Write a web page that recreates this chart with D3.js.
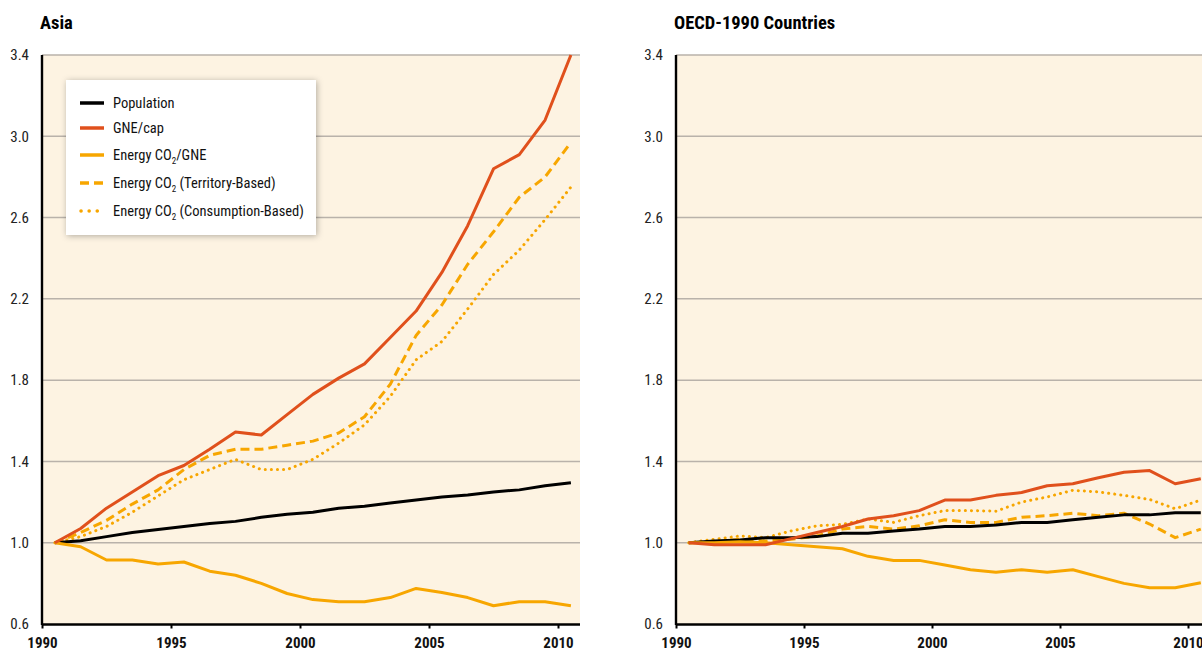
<!DOCTYPE html>
<html><head><meta charset="utf-8">
<script src="https://cdn.jsdelivr.net/npm/d3@7"></script>
<style>
html,body{margin:0;padding:0;background:#fff;}
svg{display:block;}
text{font-family:"Liberation Sans Narrow","Roboto Condensed","Open Sans",sans-serif;}
</style></head>
<body>
<svg id="chart" width="1202" height="652"></svg>
<script>
const years = [1990,1991,1992,1993,1994,1995,1996,1997,1998,1999,2000,2001,2002,2003,2004,2005,2006,2007,2008,2009,2010];
const yTicks = [0.6,1.0,1.4,1.8,2.2,2.6,3.0,3.4];
const xTicks = [1990,1995,2000,2005,2010];

const asiaPopulation  = [1.00,1.01,1.03,1.05,1.065,1.08,1.095,1.105,1.125,1.14,1.15,1.17,1.18,1.195,1.21,1.225,1.235,1.25,1.26,1.28,1.295];
const asiaGNEcap      = [1.00,1.07,1.17,1.25,1.33,1.38,1.46,1.545,1.53,1.63,1.73,1.81,1.88,2.01,2.14,2.33,2.56,2.84,2.91,3.08,3.40];
const asiaCO2GNE      = [1.00,0.98,0.915,0.915,0.895,0.905,0.86,0.84,0.80,0.75,0.72,0.71,0.71,0.73,0.775,0.755,0.73,0.69,0.71,0.71,0.69];
const asiaTerritory   = [1.00,1.05,1.11,1.19,1.26,1.36,1.43,1.46,1.46,1.48,1.50,1.54,1.62,1.78,2.02,2.17,2.37,2.53,2.70,2.80,2.97];
const asiaConsumption = [1.00,1.03,1.08,1.15,1.23,1.31,1.36,1.41,1.36,1.36,1.41,1.49,1.58,1.72,1.90,1.99,2.15,2.32,2.44,2.59,2.75];

const oecdPopulation  = [1.00,1.008,1.013,1.025,1.025,1.03,1.047,1.047,1.058,1.067,1.08,1.08,1.087,1.10,1.10,1.113,1.125,1.137,1.137,1.147,1.147];
const oecdGNEcap      = [1.00,0.99,0.99,0.99,1.02,1.05,1.08,1.117,1.133,1.158,1.21,1.21,1.233,1.247,1.28,1.29,1.32,1.347,1.355,1.29,1.315];
const oecdCO2GNE      = [1.00,1.00,1.005,1.00,0.99,0.98,0.97,0.933,0.913,0.913,0.89,0.867,0.855,0.867,0.855,0.867,0.833,0.80,0.778,0.778,0.803];
const oecdTerritory   = [1.00,1.003,1.017,1.008,1.017,1.033,1.067,1.08,1.067,1.083,1.113,1.10,1.10,1.125,1.133,1.145,1.133,1.145,1.092,1.025,1.067];
const oecdConsumption = [1.00,1.017,1.033,1.025,1.058,1.083,1.09,1.117,1.10,1.133,1.158,1.158,1.155,1.20,1.225,1.258,1.25,1.233,1.213,1.167,1.21];

const seriesNames = ["Population","GNE/cap","Energy CO2/GNE","Energy CO2 (Territory-Based)","Energy CO2 (Consumption-Based)"];

const C_BLACK="#000000", C_RED="#e0501c", C_AMBER="#f7a600";
const styles = [
  {color:C_BLACK, dash:null, cap:"butt"},
  {color:C_RED, dash:null, cap:"butt"},
  {color:C_AMBER, dash:null, cap:"butt"},
  {color:C_AMBER, dash:"9,5", cap:"butt"},
  {color:C_AMBER, dash:"0.1,6", cap:"round"}
];

const panels = [
  {title:"Asia", x0:42, pxPerYear:25.8, data:[asiaPopulation,asiaGNEcap,asiaCO2GNE,asiaTerritory,asiaConsumption], legend:true},
  {title:"OECD-1990 Countries", x0:676, pxPerYear:25.6, data:[oecdPopulation,oecdGNEcap,oecdCO2GNE,oecdTerritory,oecdConsumption], legend:false}
];

const svg = d3.select("#chart");
const defs = svg.append("defs");
const f = defs.append("filter").attr("id","shadow").attr("x","-10%").attr("y","-10%").attr("width","130%").attr("height","130%");
f.append("feDropShadow").attr("dx",1).attr("dy",1).attr("stdDeviation",3).attr("flood-color","#000").attr("flood-opacity",0.3);

const PW = 538, PTOP = 55, PBOT = 624;
const FONT = '"Liberation Sans Narrow","Roboto Condensed",sans-serif';
const y = d3.scaleLinear().domain([0.6,3.4]).range([PBOT, PTOP]);

panels.forEach((p, pi) => {
  const x = d3.scaleLinear().domain([1990, 1990 + PW / p.pxPerYear]).range([p.x0, p.x0 + PW]);
  const g = svg.append("g");
  const clipId = "clip"+pi;
  defs.append("clipPath").attr("id",clipId).append("rect")
    .attr("x",p.x0).attr("y",PTOP-3).attr("width",PW).attr("height",PBOT-PTOP+6);

  g.append("rect").attr("x",p.x0).attr("y",PTOP).attr("width",PW).attr("height",PBOT-PTOP).attr("fill","#fdf3e2");

  g.append("g").selectAll("line").data(yTicks.filter(t=>t>0.6)).join("line")
    .attr("x1",p.x0).attr("x2",p.x0+PW).attr("y1",d=>y(d)).attr("y2",d=>y(d))
    .attr("stroke","#b9b2aa").attr("stroke-width",1.5);

  g.append("text").attr("x",p.x0-2).attr("y",29).attr("font-size",18.5).attr("font-weight","bold").attr("fill","#000").text(p.title);

  const ya = g.append("g").attr("transform",`translate(${p.x0},0)`).call(d3.axisLeft(y).tickValues(yTicks).tickFormat(d3.format(".1f")).tickSize(0).tickPadding(13));
  ya.select(".domain").remove();
  ya.selectAll("text").attr("font-size",15).attr("fill","#222").style("font-family",FONT);

  const xa = g.append("g").attr("transform",`translate(0,${PBOT})`).call(d3.axisBottom(x).tickValues(xTicks).tickFormat(d3.format("d")).tickSize(4.5).tickPadding(8.5));
  xa.select(".domain").attr("stroke","#000").attr("stroke-width",2.4).attr("d",`M${p.x0},0.5H${p.x0+PW}`);
  xa.selectAll(".tick line").attr("stroke","#000").attr("stroke-width",2);
  xa.selectAll("text").attr("font-size",15).attr("font-weight","bold").attr("fill","#111").style("font-family",FONT);

  g.append("line").attr("x1",p.x0).attr("x2",p.x0).attr("y1",PTOP).attr("y2",PBOT+1).attr("stroke","#000").attr("stroke-width",2.4);

  const line = d3.line().x((d,i)=>x(years[i]+0.5)).y(d=>y(d));
  const lg = g.append("g").attr("clip-path",`url(#${clipId})`);
  [4,3,0,2,1].forEach(si => {
    const s = styles[si];
    lg.append("path").datum(p.data[si]).attr("d",line)
      .attr("fill","none").attr("stroke",s.color).attr("stroke-width",3)
      .attr("stroke-linejoin","round").attr("stroke-linecap",s.cap)
      .attr("stroke-dasharray",s.dash);
  });

  if (p.legend) {
    const lx = 66, ly = 80;
    const leg = g.append("g");
    leg.append("rect").attr("x",lx).attr("y",ly).attr("width",250).attr("height",155).attr("fill","#fff").attr("filter","url(#shadow)");
    const rows = [103,128,155,183,211];
    seriesNames.forEach((name, i) => {
      const s = styles[i];
      leg.append("line").attr("x1",i===4?81:80).attr("x2",104).attr("y1",rows[i]).attr("y2",rows[i])
        .attr("stroke",s.color).attr("stroke-width",3.5).attr("stroke-linecap",s.cap).attr("stroke-dasharray",i===4?"0.1,8":s.dash);
      const t = leg.append("text").attr("x",113).attr("y",rows[i]+5).attr("font-size",14.5).attr("fill","#111");
      const m = name.match(/^(.*CO)2(.*)$/);
      if (m) {
        t.append("tspan").text(m[1]);
        t.append("tspan").attr("font-size",9).attr("dy",3.5).text("2");
        t.append("tspan").attr("dy",-3.5).text(m[2]);
      } else t.text(name);
    });
  }
});
</script>
</body></html>
